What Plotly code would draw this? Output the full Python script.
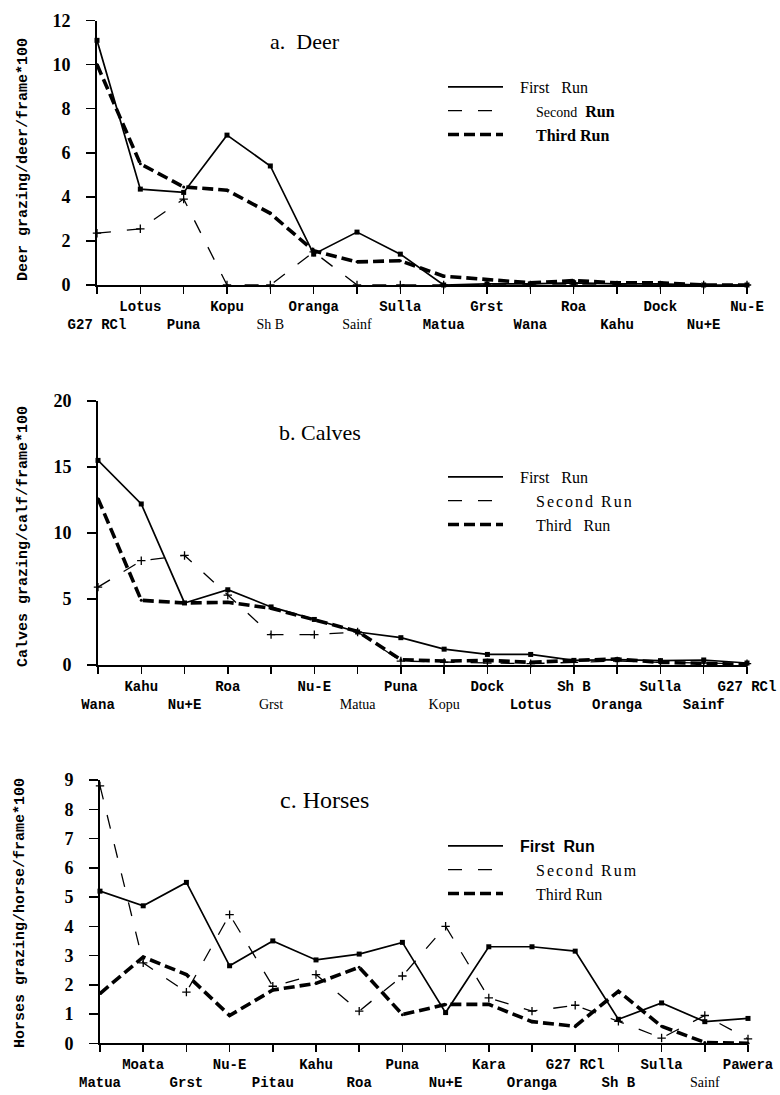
import plotly.graph_objects as go

W, H = 780, 1095

# ---------------- data ----------------
deer_cats = ["G27 RCl", "Lotus", "Puna", "Kopu", "Sh B", "Oranga", "Sainf", "Sulla",
             "Matua", "Grst", "Wana", "Roa", "Kahu", "Dock", "Nu+E", "Nu-E"]
deer_first = [11.1, 4.35, 4.2, 6.8, 5.4, 1.4, 2.4, 1.4, 0.0, 0.05, 0.05, 0.1, 0.05, 0.05, 0.0, 0.0]
deer_second = [2.35, 2.55, 3.9, 0.0, 0.0, 1.5, 0.0, 0.0, 0.0, 0.0, 0.0, 0.0, 0.0, 0.0, 0.0, 0.0]
deer_third = [10.0, 5.5, 4.45, 4.3, 3.25, 1.55, 1.05, 1.1, 0.4, 0.25, 0.1, 0.2, 0.1, 0.1, 0.0, 0.0]

calves_cats = ["Wana", "Kahu", "Nu+E", "Roa", "Grst", "Nu-E", "Matua", "Puna", "Kopu",
               "Dock", "Lotus", "Sh B", "Oranga", "Sulla", "Sainf", "G27 RCl"]
calves_first = [15.5, 12.2, 4.7, 5.7, 4.4, 3.45, 2.5, 2.07, 1.2, 0.8, 0.8, 0.35, 0.4, 0.33, 0.38, 0.15]
calves_second = [5.9, 7.9, 8.3, 5.3, 2.3, 2.3, 2.5, 0.3, 0.2, 0.15, 0.1, 0.2, 0.3, 0.2, 0.15, 0.1]
calves_third = [12.6, 4.9, 4.7, 4.75, 4.3, 3.45, 2.55, 0.4, 0.3, 0.35, 0.2, 0.35, 0.45, 0.2, 0.15, 0.05]

horses_cats = ["Matua", "Moata", "Grst", "Nu-E", "Pitau", "Kahu", "Roa", "Puna", "Nu+E",
               "Kara", "Oranga", "G27 RCl", "Sh B", "Sulla", "Sainf", "Pawera"]
horses_first = [5.2, 4.7, 5.5, 2.65, 3.5, 2.85, 3.05, 3.45, 1.05, 3.3, 3.3, 3.15, 0.82, 1.38, 0.74, 0.85]
horses_second = [8.8, 2.75, 1.75, 4.4, 1.95, 2.35, 1.1, 2.3, 4.0, 1.55, 1.1, 1.3, 0.75, 0.18, 0.95, 0.15]
horses_third = [1.7, 2.95, 2.35, 0.95, 1.82, 2.05, 2.6, 0.98, 1.33, 1.33, 0.74, 0.58, 1.78, 0.58, 0.03, 0.0]

deer_ticks = [0, 2, 4, 6, 8, 10, 12]
calves_ticks = [0, 5, 10, 15, 20]
horses_ticks = [0, 1, 2, 3, 4, 5, 6, 7, 8, 9]

# ---------------- styling ----------------
SERIF = "Liberation Serif"
MONO = "Liberation Mono"

light_labels = {
    "deer": {"Sh B", "Sainf"},
    "calves": {"Grst", "Matua", "Kopu"},
    "horses": {"Sainf"},
}

NB = "&nbsp;"
legend_names = {
    "deer": [
        NB * 3 + 'First' + NB * 3 + 'Run',
        NB * 7 + '<span style="font-size:14px">Second</span>' + NB * 2 + '<b>Run</b>',
        NB * 7 + '<b>Third Run</b>',
    ],
    "calves": [
        NB * 3 + 'First' + NB * 3 + 'Run',
        NB * 7 + '<span style="letter-spacing:2px">Second Run</span>',
        NB * 7 + 'Third' + NB * 3 + 'Run',
    ],
    "horses": [
        NB * 3 + '<span style="font-family:Liberation Sans"><b>First' + NB * 2 + 'Run</b></span>',
        NB * 7 + '<span style="letter-spacing:2px">Second Rum</span>',
        NB * 7 + 'Third Run',
    ],
}


def px_x(p):
    return p / W


def px_y(p):
    return 1 - p / H


def ticktext(cats, light):
    out = []
    for i, c in enumerate(cats):
        t = c
        if c in light:
            t = '<span style="font-family:Liberation Serif;font-weight:normal">' + c + '</span>'
        out.append(t if i % 2 else "<br>" + t)
    return out


panels = [
    dict(key="deer", cats=deer_cats, data=[deer_first, deer_second, deer_third], ticks=deer_ticks,
         yr=[0, 12], xd=[97, 747], yd=[285, 20.5], legend="legend", legy=70,
         title="a.  Deer", tpos=(305, 42), tsize=22,
         ytitle="Deer grazing/deer/frame*100", ytpos=(23, 160)),
    dict(key="calves", cats=calves_cats, data=[calves_first, calves_second, calves_third], ticks=calves_ticks,
         yr=[0, 20], xd=[98, 747], yd=[665, 401], legend="legend2", legy=460,
         title="b. Calves", tpos=(320, 433), tsize=22,
         ytitle="Calves grazing/calf/frame*100", ytpos=(23, 537)),
    dict(key="horses", cats=horses_cats, data=[horses_first, horses_second, horses_third], ticks=horses_ticks,
         yr=[0, 9], xd=[100, 748], yd=[1043.3, 780], legend="legend3", legy=829,
         title="c. Horses", tpos=(324, 800), tsize=24,
         ytitle="Horses grazing/horse/frame*100", ytpos=(20, 913)),
]

line_styles = [
    dict(color="black", width=1.7, dash="solid"),
    dict(color="black", width=1.3, dash="14px,16px"),
    dict(color="black", width=3.6, dash="11px,5px"),
]
marker_styles = [
    dict(symbol="square", size=5, color="black"),
    dict(symbol="cross-thin", size=6, color="black", line=dict(width=1.3, color="black")),
    dict(symbol="circle", size=3, color="black"),
]

fig = go.Figure()
annotations = []

for n, p in enumerate(panels, start=1):
    xa = "x" if n == 1 else f"x{n}"
    ya = "y" if n == 1 else f"y{n}"
    xs = list(range(len(p["cats"])))
    for k, series in enumerate(p["data"]):
        fig.add_trace(go.Scatter(
            x=xs, y=series, xaxis=xa, yaxis=ya, mode="lines",
            line=line_styles[k], name=legend_names[p["key"]][k],
            legend=p["legend"], cliponaxis=False, hoverinfo="skip"))
        fig.add_trace(go.Scatter(
            x=xs, y=series, xaxis=xa, yaxis=ya, mode="markers",
            marker=marker_styles[k], showlegend=False, cliponaxis=False, hoverinfo="skip"))

    xkey = "xaxis" if n == 1 else f"xaxis{n}"
    ykey = "yaxis" if n == 1 else f"yaxis{n}"
    fig.update_layout(**{
        xkey: dict(
            domain=[px_x(p["xd"][0]), px_x(p["xd"][1])], range=[0, len(p["cats"]) - 1],
            anchor=ya, showline=True, linecolor="black", linewidth=2,
            ticks="outside", ticklen=7, tickwidth=1.5, tickcolor="black",
            tickvals=xs, ticktext=ticktext(p["cats"], light_labels[p["key"]]),
            tickangle=0, automargin=False,
            tickfont=dict(family=MONO, size=14, color="black", weight="bold"),
            showgrid=False, zeroline=False, fixedrange=True,
        ),
        ykey: dict(
            domain=[px_y(p["yd"][0]), px_y(p["yd"][1])], range=p["yr"],
            anchor=xa, showline=True, linecolor="black", linewidth=2,
            ticks="outside", ticklen=9, tickwidth=1.5, tickcolor="black",
            tickvals=p["ticks"], ticklabelstandoff=12, automargin=False,
            tickfont=dict(family=SERIF, size=18, color="black", weight="bold"),
            showgrid=False, zeroline=False, fixedrange=True,
        ),
        p["legend"]: dict(
            x=px_x(443), y=px_y(p["legy"]), xanchor="left", yanchor="top",
            bgcolor="rgba(0,0,0,0)", itemwidth=55,
            font=dict(family=SERIF, size=16, color="black"),
        ),
    })
    annotations.append(dict(
        text=p["title"], x=px_x(p["tpos"][0]), y=px_y(p["tpos"][1]), xref="paper", yref="paper",
        xanchor="center", yanchor="middle", showarrow=False,
        font=dict(family=SERIF, size=p["tsize"], color="black")))
    annotations.append(dict(
        text=p["ytitle"], x=px_x(p["ytpos"][0]), y=px_y(p["ytpos"][1]), xref="paper", yref="paper",
        xanchor="center", yanchor="middle", showarrow=False, textangle=-90,
        font=dict(family=MONO, size=15, color="black", weight="bold")))

fig.update_layout(
    width=W, height=H, margin=dict(l=0, r=0, t=0, b=0, autoexpand=False),
    paper_bgcolor="white", plot_bgcolor="white",
    showlegend=True, annotations=annotations,
)

fig.write_html(
    "out.html",
    config={"displayModeBar": False, "staticPlot": True},
    post_script="document.body.style.margin='0px';document.body.style.overflow='hidden';",
)
